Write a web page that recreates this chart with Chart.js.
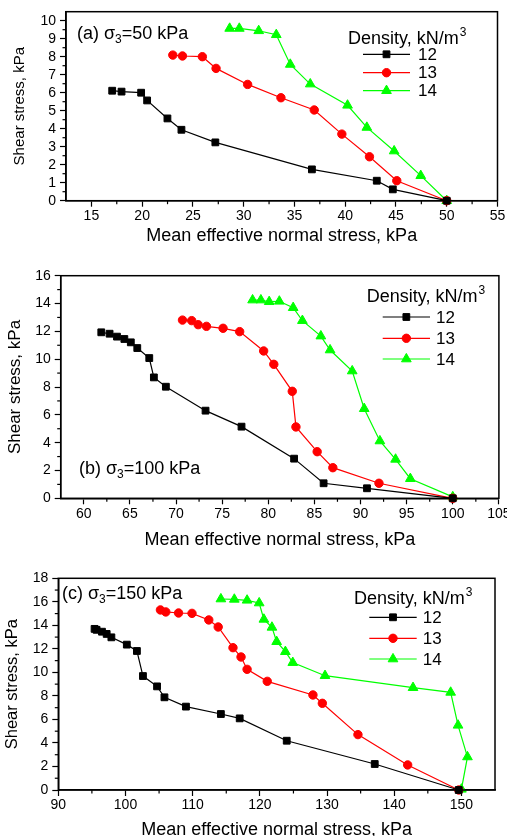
<!DOCTYPE html>
<html>
<head>
<meta charset="utf-8">
<script src="https://cdn.jsdelivr.net/npm/chart.js@4.4.0/dist/chart.umd.min.js"></script>
<style>
  html, body { margin: 0; padding: 0; background: #fff; overflow: hidden; width: 507px; height: 836px; }
  canvas { position: absolute; left: 0; }
</style>
</head>
<body>
<canvas id="chartA" width="507" height="251" style="top:0px"></canvas>
<canvas id="chartB" width="507" height="304" style="top:251px"></canvas>
<canvas id="chartC" width="507" height="290" style="top:555px"></canvas>

<script>
// legend entries (density, kN/m3)
var densities = ['12', '13', '14'];

// (a) sigma3 = 50 kPa : mean effective normal stress p, shear stress q
var pA12 = [17.05, 17.97, 19.9, 20.49, 22.49, 23.87, 27.21, 36.72, 43.11, 44.69, 50];
var qA12 = [6.11, 6.06, 6.0, 5.57, 4.57, 3.94, 3.24, 1.74, 1.11, 0.63, 0];
var pA13 = [23.02, 23.97, 25.93, 27.28, 30.39, 33.67, 36.95, 39.67, 42.39, 45.08, 50];
var qA13 = [8.09, 8.04, 8.0, 7.35, 6.46, 5.72, 5.04, 3.70, 2.44, 1.11, 0];
var pA14 = [28.62, 29.57, 31.48, 33.21, 34.59, 36.56, 40.23, 42.13, 44.82, 47.44, 50];
var qA14 = [9.57, 9.57, 9.44, 9.22, 7.57, 6.48, 5.30, 4.07, 2.76, 1.39, 0];

// (b) sigma3 = 100 kPa
var pB12 = [61.9, 62.8, 63.6, 64.4, 65.1, 65.8, 67.1, 67.6, 68.9, 73.2, 77.1, 82.8, 86.0, 90.7, 100];
var qB12 = [11.93, 11.83, 11.62, 11.45, 11.21, 10.80, 10.08, 8.69, 8.02, 6.30, 5.15, 2.85, 1.08, 0.72, 0];
var pB13 = [70.7, 71.7, 72.4, 73.3, 75.1, 76.9, 79.5, 80.6, 82.6, 83.0, 85.3, 87.0, 92.0, 100];
var qB13 = [12.81, 12.77, 12.48, 12.36, 12.22, 11.98, 10.59, 9.63, 7.69, 5.13, 3.35, 2.20, 1.08, 0];
var pB14 = [78.3, 79.2, 80.1, 81.2, 82.7, 83.7, 85.7, 86.7, 89.1, 90.4, 92.1, 93.8, 95.4, 100];
var qB14 = [14.25, 14.25, 14.13, 14.16, 13.70, 12.77, 11.66, 10.66, 9.15, 6.44, 4.12, 2.80, 1.41, 0.1];

// (c) sigma3 = 150 kPa
var pC12 = [95.4, 95.7, 96.5, 97.2, 97.9, 100.2, 101.7, 102.6, 104.7, 105.8, 109.0, 114.2, 117.0, 124.0, 137.1, 149.6];
var qC12 = [13.7, 13.62, 13.46, 13.27, 12.98, 12.36, 11.82, 9.69, 8.81, 7.88, 7.09, 6.46, 6.09, 4.19, 2.21, 0];
var pC13 = [105.2, 106.0, 107.9, 109.9, 112.4, 113.8, 116.0, 117.2, 118.1, 121.1, 127.9, 129.3, 134.6, 142.0, 149.6];
var qC13 = [15.31, 15.14, 15.05, 15.02, 14.46, 13.86, 12.10, 11.31, 10.26, 9.24, 8.08, 7.37, 4.71, 2.13, 0];
var pC14 = [114.2, 116.2, 118.1, 119.9, 120.6, 121.8, 122.5, 123.8, 124.9, 129.7, 142.8, 148.4, 149.5, 150.9, 150.0];
var qC14 = [16.24, 16.21, 16.13, 15.90, 14.51, 13.83, 12.61, 11.76, 10.83, 9.72, 8.70, 8.30, 5.50, 2.81, 0.06];

// tick labels
var xTicksA = [15, 20, 25, 30, 35, 40, 45, 50, 55];
var yTicksA = [0, 1, 2, 3, 4, 5, 6, 7, 8, 9, 10];
var xTicksB = [60, 65, 70, 75, 80, 85, 90, 95, 100, 105];
var yTicksB = [0, 2, 4, 6, 8, 10, 12, 14, 16];
var xTicksC = [90, 100, 110, 120, 130, 140, 150];
var yTicksC = [0, 2, 4, 6, 8, 10, 12, 14, 16, 18];

var FONT = "'Liberation Sans', Arial, sans-serif";
Chart.defaults.font.family = FONT;
Chart.defaults.color = '#000';

var lineColors = ['#000000', '#ff0000', '#00ff00'];
var markers = ['rect', 'circle', 'triangle'];
var markerSize = [4.8, 4.2, 5.6];

function series(xs, ys, k) {
  return {
    label: densities[k],
    data: xs.map(function (x, i) { return {x: x, y: ys[i]}; }),
    borderColor: lineColors[k],
    backgroundColor: lineColors[k],
    borderWidth: 1.2,
    pointStyle: markers[k],
    pointRadius: markerSize[k],
    pointHoverRadius: markerSize[k],
    pointBorderWidth: 1,
    tension: 0,
    clip: false
  };
}

function drawMarker(ctx, k, x, y) {
  ctx.fillStyle = lineColors[k];
  ctx.strokeStyle = lineColors[k];
  ctx.lineWidth = 1;
  Chart.helpers.drawPoint(ctx, {pointStyle: markers[k], radius: markerSize[k], rotation: 0, borderWidth: 1}, x, y);
}

// box frame, minor ticks, panel tag and the legend inside the plot
var origin = {
  id: 'origin',
  afterDraw: function (chart) {
    var o = chart.options.plugins.origin;
    var ctx = chart.ctx, a = chart.chartArea;
    ctx.save();
    ctx.strokeStyle = '#000';
    ctx.lineWidth = 1.5;
    ctx.strokeRect(a.left, a.top, a.right - a.left, a.bottom - a.top);

    ctx.lineWidth = 1.2;
    ['x', 'y'].forEach(function (id) {
      var s = chart.scales[id], t = s.ticks;
      for (var i = 0; i < t.length - 1; i++) {
        var p = s.getPixelForValue((t[i].value + t[i + 1].value) / 2);
        ctx.beginPath();
        if (id === 'x') { ctx.moveTo(p, a.bottom); ctx.lineTo(p, a.bottom + 3.5); }
        else { ctx.moveTo(a.left, p); ctx.lineTo(a.left - 3.5, p); }
        ctx.stroke();
      }
    });

    // panel tag, e.g. (a) σ3=50 kPa
    ctx.fillStyle = '#000';
    ctx.textBaseline = 'alphabetic';
    ctx.textAlign = 'left';
    var x = o.tag[0], y = o.tag[1] + 6.5;
    ctx.font = '18px ' + FONT;
    var s1 = o.tag[2] + ' \u03c3';
    ctx.fillText(s1, x, y);
    x += ctx.measureText(s1).width;
    ctx.font = '12px ' + FONT;
    ctx.fillText('3', x, y + 4);
    x += ctx.measureText('3').width;
    ctx.font = '18px ' + FONT;
    ctx.fillText('=' + o.tag[3] + ' kPa', x, y);

    // legend
    var L = o.legend;
    ctx.font = '18px ' + FONT;
    var t1 = 'Density, kN/m';
    ctx.fillText(t1, L.x, L.y + 6.5);
    var w = ctx.measureText(t1).width;
    ctx.font = '12px ' + FONT;
    ctx.fillText('3', L.x + w + 1, L.y - 1);
    for (var k = 0; k < densities.length; k++) {
      var ry = L.rows[k];
      ctx.strokeStyle = lineColors[k];
      ctx.lineWidth = 1.2;
      ctx.beginPath();
      ctx.moveTo(L.x1, ry); ctx.lineTo(L.x2, ry);
      ctx.stroke();
      drawMarker(ctx, k, (L.x1 + L.x2) / 2, ry);
      ctx.fillStyle = '#000';
      ctx.font = '17px ' + FONT;
      ctx.textBaseline = 'middle';
      ctx.fillText(densities[k], L.lx, ry + 1);
      ctx.textBaseline = 'alphabetic';
    }
    ctx.restore();
  }
};

function panel(id, c) {
  return new Chart(document.getElementById(id), {
    type: 'line',
    data: { datasets: c.sets },
    plugins: [origin],
    options: {
      responsive: false,
      animation: false,
      events: [],
      layout: { padding: { top: c.padTop, right: c.padRight, left: 0, bottom: 0 } },
      plugins: {
        legend: { display: false },
        tooltip: { enabled: false },
        origin: { tag: c.tag, legend: c.legend }
      },
      scales: {
        x: {
          type: 'linear',
          min: c.xMin, max: c.xMax,
          afterBuildTicks: function (s) { s.ticks = c.xTicks.map(function (v) { return {value: v}; }); },
          afterFit: function (s) { s.height = c.xAxisH; s.paddingLeft = 0; s.paddingRight = 0; },
          grid: { drawOnChartArea: false, tickLength: 6, tickColor: '#000', tickWidth: 1.2 },
          border: { display: true, color: '#000', width: 1.5 },
          ticks: { font: { size: 14 }, padding: 1, maxRotation: 0, autoSkip: false },
          title: { display: true, text: 'Mean effective normal stress, kPa', font: { size: c.xTitleSize }, padding: { top: 0, bottom: 4.2 } }
        },
        y: {
          type: 'linear',
          min: c.yMin, max: c.yMax,
          afterBuildTicks: function (s) { s.ticks = c.yTicks.map(function (v) { return {value: v}; }); },
          afterFit: function (s) { s.width = c.yAxisW; s.paddingTop = 0; s.paddingBottom = 0; },
          grid: { drawOnChartArea: false, tickLength: 6, tickColor: '#000', tickWidth: 1.2 },
          border: { display: true, color: '#000', width: 1.5 },
          ticks: { font: { size: 14 }, padding: 4, autoSkip: false },
          title: { display: true, text: 'Shear stress, kPa', font: { size: c.yTitleSize }, padding: { top: c.yTitlePad, bottom: 0 } }
        }
      }
    }
  });
}

panel('chartA', {
  sets: [series(pA12, qA12, 0), series(pA13, qA13, 1), series(pA14, qA14, 2)],
  xMin: 12.5, xMax: 55, xTicks: xTicksA,
  yMin: 0, yMax: 10.5, yTicks: yTicksA,
  padTop: 11.7, padRight: 9.5, yAxisW: 66, xAxisH: 50.3,
  xTitleSize: 18, yTitleSize: 15, yTitlePad: 11,
  tag: [77, 32, '(a)', '50'],
  legend: { x: 348, y: 37, rows: [54.3, 72.7, 90.7], x1: 363, x2: 410, lx: 418 }
});

panel('chartB', {
  sets: [series(pB12, qB12, 0), series(pB13, qB13, 1), series(pB14, qB14, 2)],
  xMin: 57.5, xMax: 105, xTicks: xTicksB,
  yMin: 0, yMax: 16, yTicks: yTicksB,
  padTop: 24.7, padRight: 8.1, yAxisW: 60.7, xAxisH: 56.7,
  xTitleSize: 18, yTitleSize: 17, yTitlePad: 4.8,
  tag: [79, 216, '(b)', '100'],
  legend: { x: 366.7, y: 44, rows: [66, 87.3, 108], x1: 382.7, x2: 430, lx: 436 }
});

panel('chartC', {
  sets: [series(pC12, qC12, 0), series(pC13, qC13, 1), series(pC14, qC14, 2)],
  xMin: 90, xMax: 155, xTicks: xTicksC,
  yMin: 0, yMax: 18, yTicks: yTicksC,
  padTop: 23.3, padRight: 12, yAxisW: 58.3, xAxisH: 55,
  xTitleSize: 18, yTitleSize: 16.5, yTitlePad: 2.1,
  tag: [62, 37, '(c)', '150'],
  legend: { x: 354, y: 42.3, rows: [62.3, 83.3, 104], x1: 369.3, x2: 416.7, lx: 422.7 }
});
</script>
</body>
</html>
